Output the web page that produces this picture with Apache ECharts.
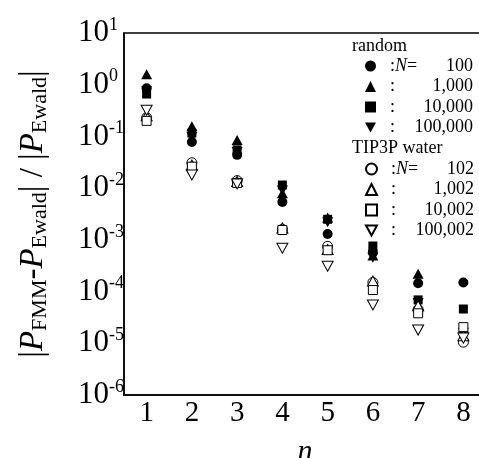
<!DOCTYPE html>
<html>
<head>
<meta charset="utf-8">
<script src="https://cdn.jsdelivr.net/npm/echarts@6/dist/echarts.min.js"></script>
<style>
  html, body { margin: 0; padding: 0; background: #ffffff; }
  #chart { width: 479px; height: 458px; }
</style>
</head>
<body>
<div id="chart"></div>
<script>
// n (multipole order)
var categories = ['1', '2', '3', '4', '5', '6', '7', '8'];
var randomN = ['100', '1,000', '10,000', '100,000'];
var waterN = ['102', '1,002', '10,002', '100,002'];

// random systems (filled symbols)
var rand100 = [0.85, 0.078, 0.044, 0.0054, 0.0013, 0.00058, 0.000145, 0.00015];
var rand1000 = [1.6, 0.158, 0.085, 0.008, 0.0027, 0.0005, 0.00022, 0.00002];
var rand10000 = [0.66, 0.116, 0.055, 0.0115, 0.0025, 0.00076, 0.000069, 0.000046];
var rand100000 = [0.75, 0.097, 0.05, 0.009, 0.0022, 0.00045, 0.00006, 0.000016];

// TIP3P water (open symbols)
var wat102 = [0.23, 0.031, 0.014, 0.0016, 0.00075, 0.00015, 0.000045, 0.0000105];
var wat1002 = [0.25, 0.028, 0.0135, 0.0017, 0.00065, 0.00016, 0.000053, 0.000014];
var wat10002 = [0.2, 0.026, 0.0126, 0.00155, 0.00063, 0.000107, 0.000038, 0.0000205];
var wat100002 = [0.32, 0.018, 0.012, 0.00069, 0.00031, 0.000055, 0.000018, 0.0000126];

var font = '"Liberation Serif", "Times New Roman", serif';
var invTri = 'path://M0,0L10,0L5,9Z';

var randomNames = randomN.map(function (n) { return 'random ' + n; });
var waterNames = waterN.map(function (n) { return 'water ' + n; });

function mk(name, data, symbol, size, open) {
  return {
    name: name,
    type: 'scatter',
    data: data,
    symbol: symbol,
    symbolSize: size,
    itemStyle: open
      ? { color: '#ffffff', borderColor: '#000000', borderWidth: 1, opacity: 1 }
      : { color: '#000000', opacity: 1 },
    emphasis: { disabled: true }
  };
}

function legendFmt(list) {
  return function (name) {
    var idx = (list === 'r' ? randomNames : waterNames).indexOf(name);
    var val = (list === 'r' ? randomN : waterN)[idx];
    if (idx === 0) {
      return '{sp|}{c|:}{it|N}{t|=}{v|' + val + '}';
    }
    return '{sp|}{c|:}{v|' + val + '}';
  };
}

var legendText = {
  fontFamily: font,
  fontSize: 18,
  color: '#000',
  width: 92,
  lineHeight: 20,
  rich: {
    sp: { width: 9, fontSize: 18, fontFamily: font },
    c: { fontSize: 18, fontFamily: font },
    it: { fontSize: 18, fontFamily: font, fontStyle: 'italic' },
    t: { fontSize: 18, fontFamily: font },
    v: { fontSize: 18, fontFamily: font, align: 'right' }
  }
};

var myChart = echarts.init(document.getElementById('chart'));
var option = {
  backgroundColor: '#ffffff',
  animation: false,
  grid: {
    left: 124,
    right: -7,
    top: 33,
    bottom: 63,
    outerBoundsMode: 'none',
    show: true,
    borderColor: '#000',
    borderWidth: 1.5,
    backgroundColor: 'transparent'
  },
  graphic: [
    { type: 'text', left: 352, top: 37, style: { text: 'random', font: '18px ' + font, fill: '#000' } },
    { type: 'text', left: 352, top: 139, style: { text: 'TIP3P water', font: '18px ' + font, fill: '#000' } }
  ],
  legend: [
    {
      data: randomNames,
      orient: 'vertical',
      left: 360,
      top: 51,
      itemWidth: 11,
      itemHeight: 11,
      itemGap: 0.5,
      selectedMode: false,
      formatter: legendFmt('r'),
      textStyle: legendText
    },
    {
      data: waterNames,
      orient: 'vertical',
      left: 360,
      top: 154,
      itemWidth: 11,
      itemHeight: 11,
      itemGap: 0.5,
      selectedMode: false,
      formatter: legendFmt('w'),
      textStyle: legendText
    }
  ],
  xAxis: {
    type: 'category',
    data: categories,
    boundaryGap: true,
    name: 'n',
    nameLocation: 'middle',
    nameGap: 42,
    nameTextStyle: { fontFamily: font, fontSize: 30, fontStyle: 'italic', color: '#000' },
    axisLine: { lineStyle: { color: '#000', width: 1.5 } },
    axisTick: { inside: true, alignWithLabel: true, length: 9, lineStyle: { color: '#000', width: 1.2 } },
    axisLabel: { fontFamily: font, fontSize: 29, color: '#000', margin: 4 },
    splitLine: { show: false }
  },
  yAxis: {
    type: 'log',
    logBase: 10,
    min: 1e-6,
    max: 10,
    interval: 1,
    name: '{b||}{p|P}{s|FMM}{b|-}{p|P}{s|Ewald}{b|| / |}{p|P}{s|Ewald}{b||}',
    nameLocation: 'middle',
    nameRotate: 90,
    nameGap: 73,
    nameTextStyle: {
      color: '#000',
      rich: {
        b: { fontFamily: font, fontSize: 33, lineHeight: 36, color: '#000' },
        p: { fontFamily: font, fontSize: 33, lineHeight: 36, fontStyle: 'italic', color: '#000' },
        s: { fontFamily: font, fontSize: 22, lineHeight: 21, verticalAlign: 'bottom', color: '#000' }
      }
    },
    axisLine: { show: true, lineStyle: { color: '#000', width: 1.5 } },
    axisTick: { inside: true, length: 9, lineStyle: { color: '#000', width: 1.2 } },
    minorTick: { show: false },
    splitLine: { show: false },
    axisLabel: {
      margin: 46,
      align: 'left',
      formatter: function (v) {
        var e = Math.round(Math.log10(v));
        return '{b|10}{s|' + e + '}';
      },
      rich: {
        b: { fontFamily: font, fontSize: 31, lineHeight: 34, color: '#000' },
        s: { fontFamily: font, fontSize: 18, lineHeight: 18, verticalAlign: 'top', color: '#000' }
      }
    }
  },
  series: [
    mk(randomNames[0], rand100, 'circle', 10, false),
    mk(randomNames[1], rand1000, 'triangle', [11, 10], false),
    mk(randomNames[2], rand10000, 'rect', 9, false),
    mk(randomNames[3], rand100000, invTri, [11, 10], false),
    mk(waterNames[0], wat102, 'circle', 10, true),
    mk(waterNames[1], wat1002, 'triangle', [11, 10], true),
    mk(waterNames[2], wat10002, 'rect', 9, true),
    mk(waterNames[3], wat100002, invTri, [11, 10], true)
  ]
};
myChart.setOption(option);
</script>
</body>
</html>
